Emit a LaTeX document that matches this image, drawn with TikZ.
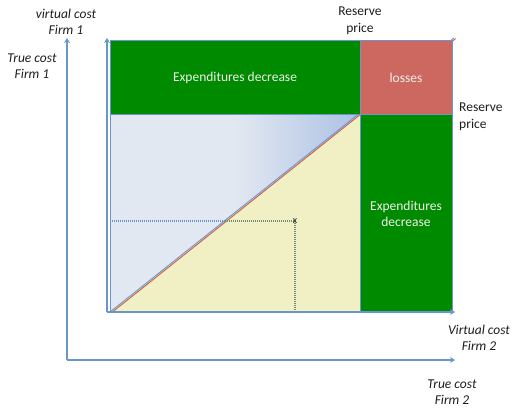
\documentclass[tikz,border=0pt]{standalone}
\usepackage{fontspec}
\setmainfont{Carlito}
\usetikzlibrary{arrows.meta,calc}
\definecolor{grn}{RGB}{0,138,0}
\definecolor{rd}{RGB}{205,104,96}
\definecolor{axb}{RGB}{104,150,205}
\definecolor{lbl}{RGB}{226,232,241}
\definecolor{dbl}{RGB}{172,193,228}
\definecolor{ylw}{RGB}{241,240,196}
\definecolor{dgr}{RGB}{110,140,115}
\definecolor{txt}{RGB}{30,30,30}
\definecolor{wtx}{RGB}{240,240,235}
\definecolor{dred}{RGB}{200,90,80}
\pgfdeclarehorizontalshading{bluefade}{100bp}{color(0bp)=(lbl); color(25bp)=(lbl); color(50bp)=(lbl); color(75bp)=(dbl); color(100bp)=(dbl)}
\tikzset{
  axisarrow/.style={draw=axb, line width=1.4pt, -{Stealth[length=5pt,width=6pt]}},
  region/.style={draw=axb, line width=0.6pt},
  lab/.style={text=txt, align=center, font=\fontsize{13.5}{16.5}\selectfont},
  ilab/.style={text=txt, align=center, font=\fontsize{13.5}{16.5}\selectfont\itshape},
  boxtext/.style={text=wtx, align=center, font=\fontsize{13.5}{16.5}\selectfont},
  dotb/.style={draw=axb, line width=1.2pt, dash pattern=on 1pt off 1pt},
  dotg/.style={draw=dgr, line width=1.2pt, dash pattern=on 1pt off 1pt}
}
\begin{document}
\begin{tikzpicture}[x=1pt,y=-1pt]
\useasboundingbox (0,0) rectangle (512,408);
% coordinates
\coordinate (O2) at (67,360);
\coordinate (T2) at (67,38);
\coordinate (R2) at (455,360);
\coordinate (O1) at (107,312);
\coordinate (T1) at (107,38);
\coordinate (R1) at (455,312);
\coordinate (A) at (110,312);
\coordinate (B) at (360,114);
\coordinate (C) at (110,114);
\coordinate (D) at (360,312);
\coordinate (E) at (454,38);
\coordinate (A2) at (111.6,312.6);
\coordinate (E2) at (455.6,38.6);
% yellow region
\fill[ylw] (A) -- (B) -- (D) -- cycle;
% blue triangle
\shade[shading=bluefade] (A) -- (C) -- (B) -- cycle;
\draw[region] (A) -- (C) -- (B);
% diagonal
\draw[axb, line width=0.9pt] (A) -- (E);
\draw[dred, line width=0.9pt] (A2) -- (E2);
% boxes
\path[region, fill=grn] (110,40) rectangle (360,114);
\path[region, fill=rd] (360,40) rectangle (452,114);
\path[region, fill=grn] (360,114) rectangle (452,312);
% dotted guides
\coordinate (X) at (295,221);
\coordinate (XL) at (110,221);
\coordinate (XM) at (225,221);
\coordinate (XB) at (295,312);
\draw[dotb] (XL) -- (XM);
\draw[dotg] (XM) -- (X);
\draw[dotg] (X) -- (XB);
\node[text=txt, font=\fontsize{10}{10}\selectfont, inner sep=0pt] (xmark) at (X) {x};
% axes
\draw[axisarrow] (O2) -- (T2);
\draw[axisarrow] (O2) -- (R2);
\draw[axisarrow] (O1) -- (T1);
\draw[axisarrow] (O1) -- (R1);
% box texts
\node[boxtext] (ed1) at (235,78) {Expenditures decrease};
\node[boxtext] (loss) at (406,78) {losses};
\node[boxtext] (ed2) at (406,214) {Expenditures\\decrease};
% labels
\node[ilab] (vc1) at (66,22) {virtual cost\\Firm 1};
\node[ilab] (tc1) at (32,66) {True cost\\Firm 1};
\node[lab] (rp1) at (360,21) {Reserve\\price};
\node[lab, align=left, anchor=west, inner sep=0pt] (rp2) at (459,117) {Reserve\\price};
\node[ilab] (vc2) at (479,338) {Virtual cost\\Firm 2};
\node[ilab] (tc2) at (452,392) {True cost\\Firm 2};
\end{tikzpicture}
\end{document}
